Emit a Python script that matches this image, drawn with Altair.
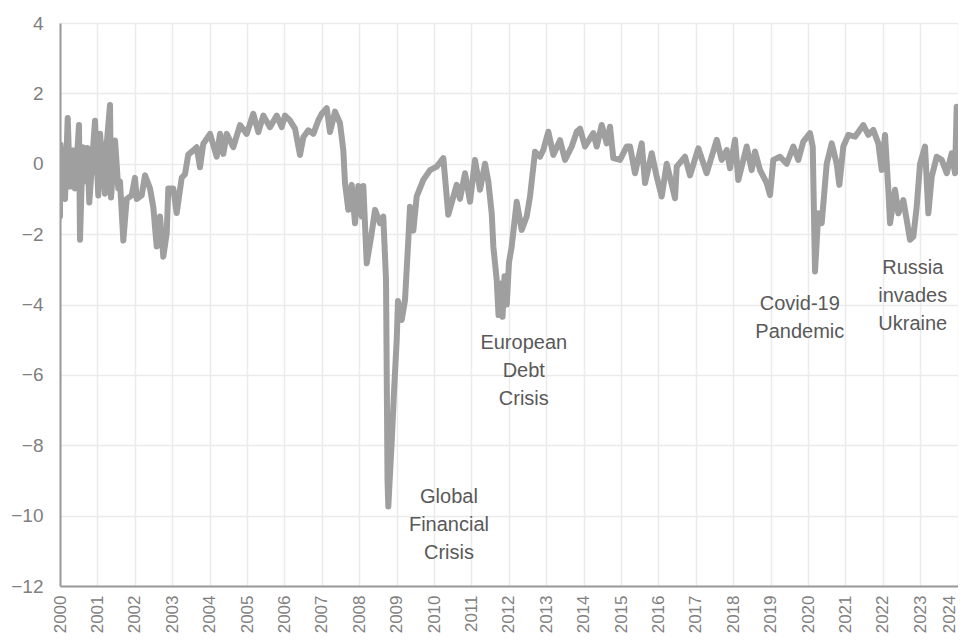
import altair as alt
import pandas as pd

# Decimal years and index values
years = [
    2000.000, 2000.013, 2000.080, 2000.134, 2000.206, 2000.267, 2000.356, 2000.401, 2000.508, 2000.535,
    2000.607, 2000.668, 2000.730, 2000.783, 2000.936, 2001.024, 2001.070, 2001.203, 2001.249, 2001.337,
    2001.364, 2001.471, 2001.559, 2001.604, 2001.693, 2001.783, 2001.917, 2002.005, 2002.051, 2002.184,
    2002.273, 2002.406, 2002.495, 2002.586, 2002.674, 2002.762, 2002.853, 2002.896, 2003.029, 2003.120,
    2003.254, 2003.342, 2003.430, 2003.564, 2003.655, 2003.743, 2003.832, 2004.011, 2004.190, 2004.278,
    2004.366, 2004.457, 2004.634, 2004.813, 2004.992, 2005.168, 2005.302, 2005.436, 2005.615, 2005.794,
    2005.928, 2006.016, 2006.150, 2006.283, 2006.417, 2006.505, 2006.639, 2006.773, 2006.906, 2006.997,
    2007.131, 2007.219, 2007.353, 2007.487, 2007.575, 2007.620, 2007.709, 2007.799, 2007.888, 2007.976,
    2008.067, 2008.110, 2008.201, 2008.334, 2008.422, 2008.556, 2008.644, 2008.717, 2008.757, 2008.778,
    2008.824, 2008.869, 2008.930, 2009.003, 2009.037, 2009.091, 2009.136, 2009.225, 2009.313, 2009.358,
    2009.447, 2009.537, 2009.714, 2009.893, 2010.072, 2010.249, 2010.382, 2010.607, 2010.695, 2010.829,
    2010.963, 2011.096, 2011.230, 2011.364, 2011.452, 2011.543, 2011.586, 2011.676, 2011.725, 2011.778,
    2011.832, 2011.885, 2011.944, 2012.005, 2012.077, 2012.211, 2012.345, 2012.478, 2012.567, 2012.701,
    2012.834, 2012.922, 2013.056, 2013.190, 2013.369, 2013.503, 2013.682, 2013.816, 2013.904, 2014.037,
    2014.259, 2014.350, 2014.484, 2014.618, 2014.706, 2014.794, 2014.973, 2015.152, 2015.241, 2015.374,
    2015.553, 2015.642, 2015.821, 2015.955, 2016.088, 2016.222, 2016.444, 2016.489, 2016.711, 2016.845,
    2017.067, 2017.291, 2017.559, 2017.693, 2017.826, 2017.914, 2018.048, 2018.136, 2018.361, 2018.495,
    2018.583, 2018.717, 2018.896, 2018.984, 2019.072, 2019.251, 2019.430, 2019.607, 2019.741, 2019.874,
    2020.053, 2020.126, 2020.187, 2020.275, 2020.366, 2020.500, 2020.634, 2020.767, 2020.837, 2020.944,
    2021.078, 2021.257, 2021.479, 2021.612, 2021.746, 2021.880, 2021.971, 2022.059, 2022.147, 2022.193,
    2022.326, 2022.414, 2022.548, 2022.639, 2022.727, 2022.816, 2022.906, 2022.995, 2023.128, 2023.217,
    2023.307, 2023.441, 2023.575, 2023.709, 2023.842, 2023.930, 2023.976, 2024.064, 2024.152, 2024.217,
]
values = [
    -1.50, 0.55, -0.30, -1.00, 1.30, -0.65, 0.38, -0.70, 1.10, -2.16,
    0.47, -0.50, 0.45, -1.10, 1.22, -0.90, 0.85, -0.85, 0.57, 1.67,
    -0.96, 0.66, -0.70, -0.50, -2.18, -1.00, -0.90, -0.40, -1.00, -0.90,
    -0.33, -0.70, -1.24, -2.35, -1.50, -2.64, -1.98, -0.70, -0.70, -1.40,
    -0.40, -0.30, 0.26, 0.38, 0.47, -0.10, 0.57, 0.85, 0.20, 0.85,
    0.28, 0.85, 0.47, 1.10, 0.85, 1.42, 0.90, 1.37, 1.04, 1.37,
    1.04, 1.37, 1.23, 1.00, 0.25, 0.75, 0.95, 0.85, 1.23, 1.42,
    1.58, 0.90, 1.48, 1.15, 0.39, -0.55, -1.31, -0.60, -1.69, -0.63,
    -1.50, -0.63, -2.83, -1.97, -1.31, -1.69, -1.50, -3.30, -9.00, -9.74,
    -8.80, -7.90, -6.50, -5.00, -3.90, -4.30, -4.44, -3.87, -2.16, -1.22,
    -1.90, -0.93, -0.46, -0.18, -0.08, 0.16, -1.45, -0.60, -1.00, -0.27,
    -1.08, 0.11, -0.74, 0.00, -0.50, -1.41, -2.35, -3.30, -4.30, -3.40,
    -4.35, -3.20, -4.00, -2.80, -2.35, -1.08, -1.88, -1.50, -0.93, 0.34,
    0.20, 0.39, 0.91, 0.25, 0.67, 0.11, 0.49, 0.91, 1.00, 0.49,
    0.87, 0.49, 1.10, 0.58, 1.05, 0.16, 0.11, 0.49, 0.49, -0.27,
    0.58, -0.55, 0.30, -0.37, -0.93, 0.00, -0.98, -0.08, 0.20, -0.33,
    0.44, -0.27, 0.68, 0.11, 0.39, -0.13, 0.68, -0.46, 0.49, -0.18,
    0.35, -0.18, -0.55, -0.89, 0.11, 0.20, 0.00, 0.49, 0.11, 0.63,
    0.87, 0.49, -3.06, -1.41, -1.69, 0.00, 0.58, 0.00, -0.60, 0.49,
    0.82, 0.77, 1.10, 0.82, 0.96, 0.58, -0.18, 0.82, -0.74, -1.69,
    -0.74, -1.41, -1.03, -1.60, -2.16, -2.07, -1.22, 0.00, 0.49, -1.41,
    -0.37, 0.20, 0.11, -0.27, 0.30, -0.27, 1.62, 1.05, 0.00, 1.15,
]

year_ticks = list(range(2000, 2025))
y_ticks = list(range(-12, 5, 2))

note_text = ["Global\nFinancial\nCrisis", "European\nDebt\nCrisis", "Covid-19\nPandemic", "Russia\ninvades\nUkraine"]
note_year = [2010.40, 2012.40, 2019.78, 2022.80]
note_value = [-9.47, -5.09, -3.98, -2.95]

df = pd.DataFrame({"year": years, "value": values})
notes = pd.DataFrame({"year": note_year, "value": note_value, "text": note_text})

FONT = "Liberation Sans"

x_scale = alt.Scale(domain=[2000, 2024.01], nice=False, zero=False)
y_scale = alt.Scale(domain=[-12, 4], nice=False)

x_axis = alt.Axis(values=year_ticks, format="d", labelAngle=270, labelAlign="right",
                  labelBaseline="middle", labelPadding=9, ticks=False, title=None,
                  grid=True, labelOverlap=False, labelFlush=False, labelFontSize=17,
                  labelOffset={"condition": {"test": "datum.value >= 2024", "value": -8},
                               "value": 0})
y_axis = alt.Axis(values=y_ticks, ticks=False, title=None, labelPadding=17,
                  grid=True, labelOverlap=False, labelFontSize=19)

line = alt.Chart(df).mark_line(
    color="#9f9f9f", strokeWidth=6, strokeJoin="round", strokeCap="round", clip=True
).encode(
    x=alt.X("year:Q", scale=x_scale, axis=x_axis),
    y=alt.Y("value:Q", scale=y_scale, axis=y_axis),
)

text = alt.Chart(notes).mark_text(
    font=FONT, fontSize=20, color="#595959", lineBreak="\n", lineHeight=28,
    align="center", baseline="middle"
).encode(
    x=alt.X("year:Q", scale=x_scale, axis=x_axis),
    y=alt.Y("value:Q", scale=y_scale, axis=y_axis),
    text="text:N",
)

chart = alt.layer(line, text).properties(
    width=898, height=563,
    autosize=alt.AutoSizeParams(type="none"),
    padding={"left": 52, "top": 15, "right": 0, "bottom": 50},
).configure_view(stroke=None).configure_axis(
    gridColor="#ebebeb", gridWidth=1.5, domainColor="#999999", domainWidth=2,
    labelFont=FONT, labelColor="#808080"
)

chart.save("out.html", embed_options={"renderer": "svg", "actions": False})
